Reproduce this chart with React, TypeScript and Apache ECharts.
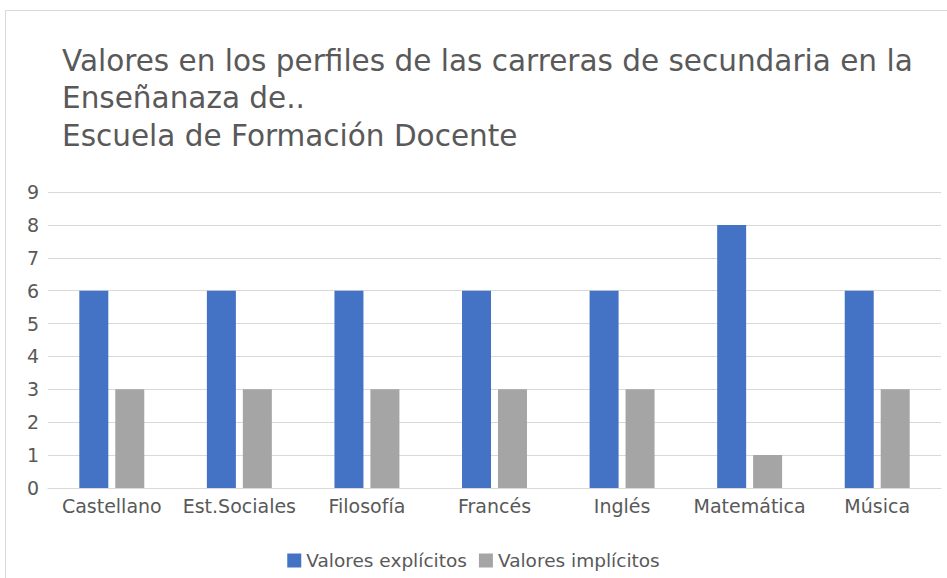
import React, { useEffect, useRef } from "react";
import * as echarts from "echarts";

const categories = ["Castellano", "Est.Sociales", "Filosofía", "Francés", "Inglés", "Matemática", "Música"];
const explicitValues = [6, 6, 6, 6, 6, 8, 6];
const implicitValues = [3, 3, 3, 3, 3, 1, 3];
const seriesNames = ["Valores explícitos", "Valores implícitos"];
const titleLines = [
  "Valores en los perfiles de las carreras de secundaria en la",
  "Enseñanaza de..",
  "Escuela de Formación Docente",
];

const FONT = "'DejaVu Sans', 'Open Sans', sans-serif";
const TXT = "#595959";

export default function App() {
  const ref = useRef<HTMLDivElement>(null);
  useEffect(() => {
    document.body.style.margin = "0";
    const chart = echarts.init(ref.current!, null, { renderer: "svg" });
    chart.setOption({
      animation: false,
      backgroundColor: "#ffffff",
      graphic: [
        {
          type: "rect",
          shape: { x: 5.5, y: 10.5, width: 960, height: 580 },
          style: { fill: "none", stroke: "#D9D9D9", lineWidth: 1 },
          silent: true,
        },
      ],
      title: {
        text: titleLines.join("\n"),
        left: 57,
        top: 37,
        textStyle: {
          fontFamily: FONT,
          fontSize: 29.5,
          fontWeight: "normal",
          color: TXT,
          lineHeight: 37.5,
        },
      },
      legend: {
        data: seriesNames,
        bottom: 3,
        left: "center",
        itemWidth: 14,
        itemHeight: 14,
        itemGap: 12,
        icon: "rect",
        textStyle: { fontFamily: FONT, fontSize: 18.5, color: TXT },
      },
      grid: { left: 48, right: 6, top: 192, bottom: 90, containLabel: false },
      xAxis: {
        type: "category",
        data: categories,
        axisLine: { show: true, lineStyle: { color: "#D9D9D9", width: 1 } },
        axisTick: { show: false },
        axisLabel: { fontFamily: FONT, fontSize: 19, color: TXT, margin: 8, interval: 0 },
      },
      yAxis: {
        type: "value",
        min: 0,
        max: 9,
        interval: 1,
        axisLine: { show: false },
        axisTick: { show: false },
        splitLine: { lineStyle: { color: "#D9D9D9", width: 1 } },
        axisLabel: { fontFamily: FONT, fontSize: 19, color: TXT, margin: 9 },
      },
      series: [
        {
          name: seriesNames[0],
          type: "bar",
          data: explicitValues,
          barWidth: 29,
          barGap: "24%",
          itemStyle: { color: "#4472C4" },
        },
        {
          name: seriesNames[1],
          type: "bar",
          data: implicitValues,
          barWidth: 29,
          itemStyle: { color: "#A5A5A5" },
        },
      ],
    });
    return () => chart.dispose();
  }, []);
  return <div ref={ref} style={{ position: "absolute", left: 0, top: 0, width: 947, height: 578 }} />;
}
